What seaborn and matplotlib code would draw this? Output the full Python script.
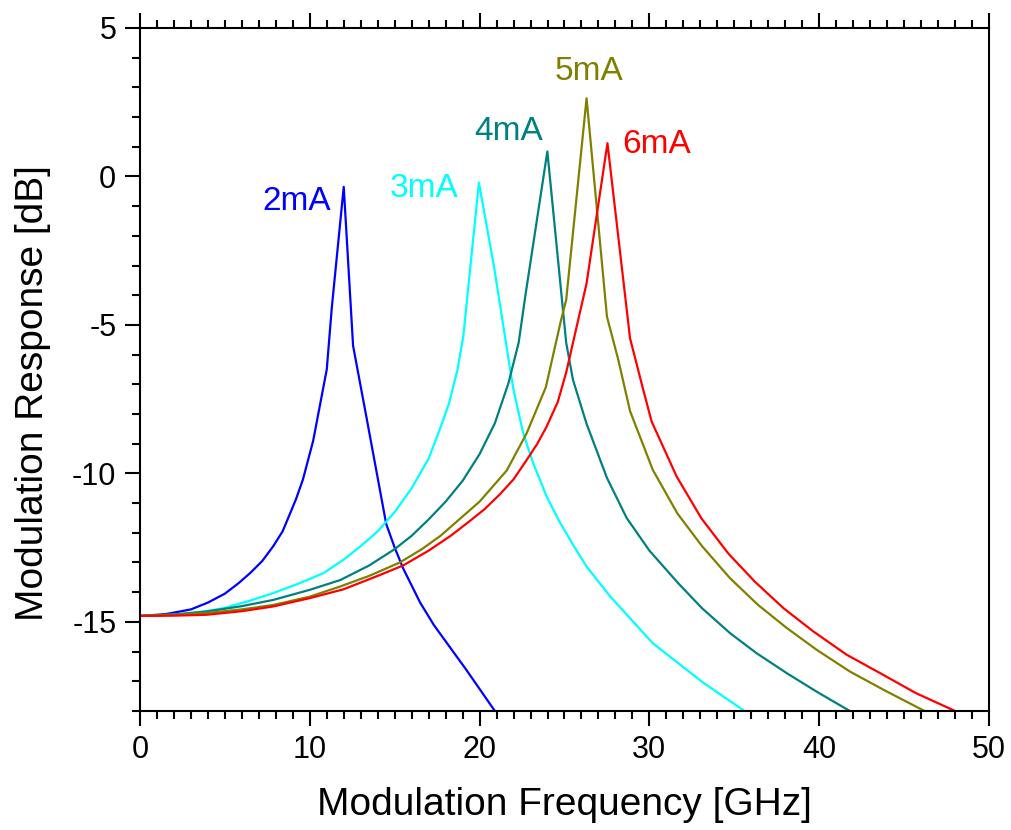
import matplotlib
matplotlib.use("Agg")
import matplotlib.pyplot as plt
from matplotlib.ticker import MultipleLocator
import seaborn as sns
import pandas as pd

# ---- data ----
f_2mA = [0, 1.5, 3, 4, 5, 5.8, 6.5, 7.2, 7.85, 8.4, 8.84, 9.2, 9.6, 10.2, 10.7, 11.0,
         11.3, 12.0, 12.55, 13.4, 13.95, 14.5, 15.0, 15.5, 16.5, 17.3, 19.2, 20.9]
r_2mA = [-14.8, -14.74, -14.58, -14.35, -14.05, -13.7, -13.35, -12.95, -12.45, -11.95,
         -11.35, -10.85, -10.2, -8.9, -7.4, -6.5, -4.4, -0.35, -5.7, -8.3, -10.0,
         -11.7, -12.5, -13.2, -14.35, -15.1, -16.6, -18.0]

f_3mA = [0, 1.95, 3.5, 4.9, 6.4, 7.85, 9.3, 10.8, 12.0, 13.0, 14.0, 15.0, 16.0, 17.0,
         17.7, 18.2, 18.7, 19.04, 19.96, 20.85, 21.8, 22.0, 22.57, 23.16, 23.95, 24.7,
         25.5, 26.3, 27.7, 30.2, 33.2, 35.6]
r_3mA = [-14.8, -14.76, -14.67, -14.54, -14.3, -14.03, -13.72, -13.36, -12.9, -12.45,
         -11.95, -11.3, -10.5, -9.5, -8.45, -7.64, -6.5, -5.39, -0.21, -3.04, -6.5,
         -7.19, -8.65, -9.66, -10.78, -11.62, -12.4, -13.14, -14.15, -15.72, -17.06,
         -18.0]

f_4mA = [0, 2, 3.93, 6, 7.85, 10, 11.8, 13.5, 15, 16, 17, 18, 19, 20, 20.9, 21.7,
         22.3, 22.7, 23.99, 25.1, 25.5, 26.3, 27.5, 28.66, 30.0, 31.7, 33.1, 34.75,
         36.3, 38.1, 39.85, 41.8]
r_4mA = [-14.8, -14.75, -14.65, -14.47, -14.26, -13.92, -13.59, -13.1, -12.55, -12.1,
         -11.55, -10.95, -10.25, -9.35, -8.31, -6.96, -5.6, -4.0, 0.84, -5.6, -6.85,
         -8.33, -10.15, -11.5, -12.6, -13.7, -14.54, -15.38, -16.05, -16.73, -17.35,
         -18.0]

f_5mA = [0, 2, 3.93, 6, 7.85, 10, 11.78, 13.5, 15.3, 16.6, 17.7, 18.7, 20.0, 21.6,
         22.77, 23.9, 24.8, 25.1, 26.3, 27.5, 28.17, 28.86, 30.2, 31.65, 33.1, 34.75,
         36.4, 38.1, 39.85, 41.8, 43.8, 46.2]
r_5mA = [-14.8, -14.76, -14.7, -14.58, -14.43, -14.15, -13.81, -13.45, -13.0, -12.55,
         -12.1, -11.6, -10.95, -9.9, -8.65, -7.1, -4.83, -4.16, 2.63, -4.72, -6.18,
         -7.9, -9.88, -11.35, -12.45, -13.53, -14.43, -15.21, -15.94, -16.67, -17.29,
         -18.0]

f_6mA = [0, 2, 3.93, 6, 7.85, 10, 12, 14, 15.5, 17, 18.3, 19.43, 20.3, 21.2, 22.0,
         22.77, 23.4, 23.95, 24.6, 25.1, 26.3, 27.53, 28.86, 29.64, 30.13, 31.6, 33.07,
         34.65, 36.2, 37.9, 39.65, 41.6, 43.6, 45.7, 48.0]
r_6mA = [-14.8, -14.79, -14.76, -14.64, -14.48, -14.2, -13.9, -13.45, -13.1, -12.6,
         -12.1, -11.6, -11.2, -10.7, -10.2, -9.55, -9.0, -8.42, -7.6, -6.6, -3.6, 1.12,
         -5.45, -7.19, -8.25, -10.1, -11.52, -12.7, -13.64, -14.54, -15.32, -16.1,
         -16.73, -17.4, -18.0]

labels = ["2mA", "3mA", "4mA", "5mA", "6mA"]
colors = ["#0000FF", "#00FFFF", "#008080", "#808000", "#FF0000"]
label_x = [9.25, 16.73, 21.73, 26.44, 30.45]
label_y = [-0.86, -0.39, 1.53, 3.55, 1.06]

x_ticks = [0, 10, 20, 30, 40, 50]
y_ticks = [5, 0, -5, -10, -15]

# ---- plotting ----
sns.set_theme(style="white")
plt.rcParams["font.family"] = ["Liberation Sans", "DejaVu Sans"]
plt.rcParams["axes.unicode_minus"] = False

fig = plt.figure(figsize=(10.12, 8.3), dpi=100)
ax = fig.add_axes([0.1383, 0.1434, 0.9773 - 0.1383, 0.9663 - 0.1434])

series = [(f_2mA, r_2mA), (f_3mA, r_3mA), (f_4mA, r_4mA), (f_5mA, r_5mA), (f_6mA, r_6mA)]
for (fx, ry), lab, col in zip(series, labels, colors):
    df = pd.DataFrame({"f": fx, "r": ry})
    sns.lineplot(data=df, x="f", y="r", color=col, linewidth=1.6, ax=ax,
                 sort=False, estimator=None)

for lab, col, lx, ly in zip(labels, colors, label_x, label_y):
    ax.text(lx, ly, lab, color=col, fontsize=24, ha="center", va="center")

ax.set_xlim(0, 50)
ax.set_ylim(-18, 5)
ax.set_xticks(x_ticks)
ax.set_yticks(y_ticks)
ax.set_xticklabels([str(t) for t in x_ticks])
ax.set_yticklabels([str(t) for t in y_ticks])
ax.xaxis.set_minor_locator(MultipleLocator(1))
ax.yaxis.set_minor_locator(MultipleLocator(1))

ax.tick_params(axis="x", which="both", direction="out", top=True, bottom=True,
               labeltop=False, colors="black", labelsize=22, pad=6)
ax.tick_params(axis="y", which="both", direction="out", left=True, right=False,
               colors="black", labelsize=22, pad=6)
ax.tick_params(which="major", length=11, width=1.5)
ax.tick_params(which="minor", length=5.5, width=1.5)

for sp in ax.spines.values():
    sp.set_visible(True)
    sp.set_color("black")
    sp.set_linewidth(1.5)

ax.grid(False)
ax.set_xlabel("Modulation Frequency [GHz]", fontsize=28, labelpad=16, color="black")
ax.set_ylabel("Modulation Response [dB]", fontsize=28, color="black")
ax.yaxis.set_label_coords(-0.105, 0.4656)

fig.savefig("out.png", dpi=100, facecolor="white")
